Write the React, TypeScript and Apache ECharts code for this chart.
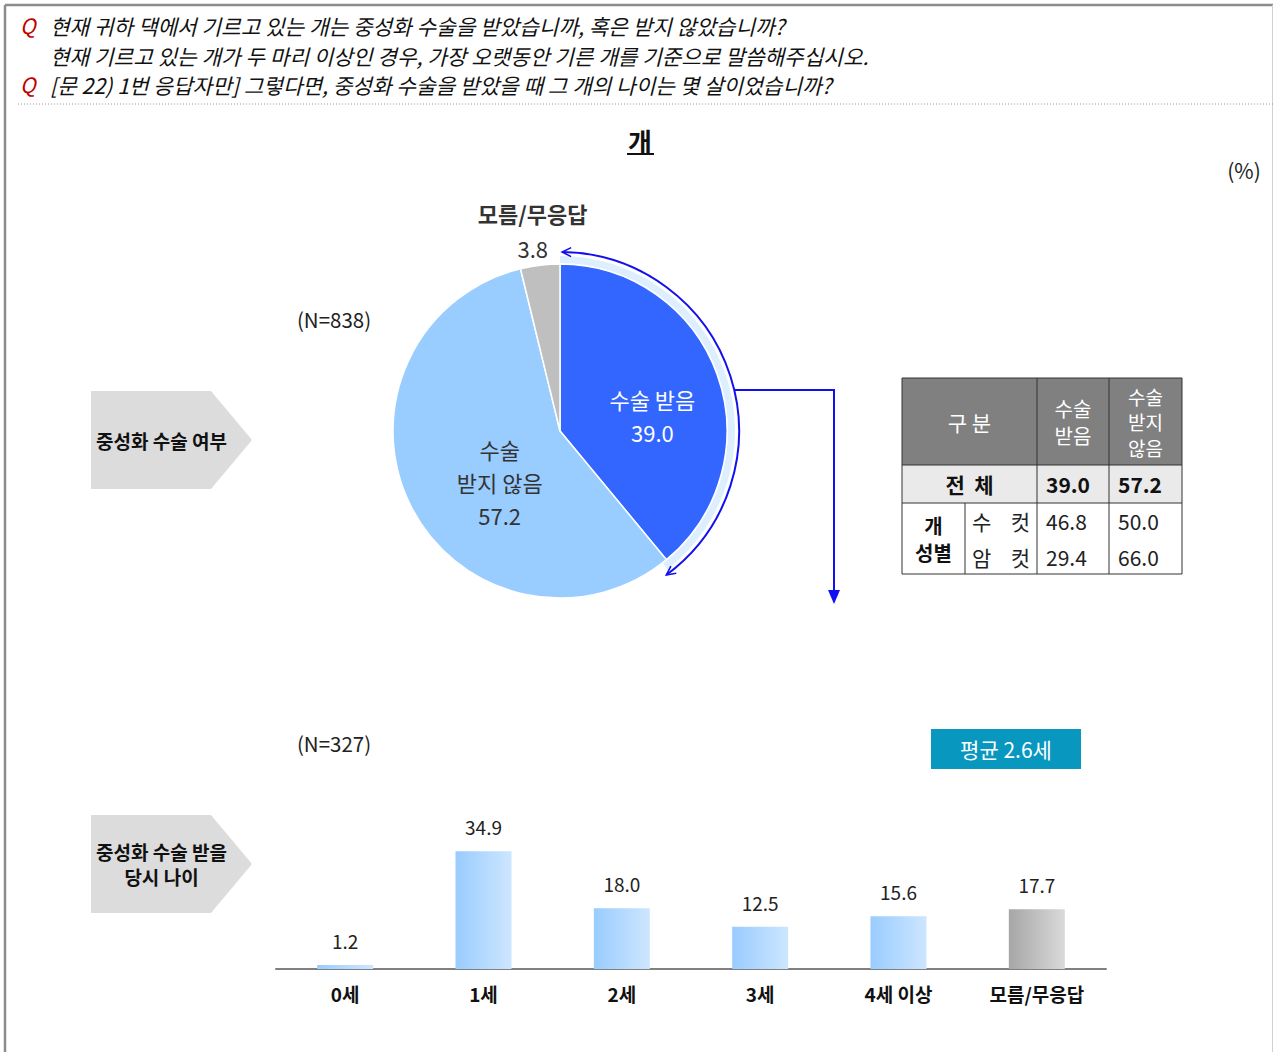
import React, { useEffect, useRef } from "react";
import * as echarts from "echarts";

// ---- data ----
const questionLines = [
  "현재 귀하 댁에서 기르고 있는 개는 중성화 수술을 받았습니까, 혹은 받지 않았습니까?",
  "현재 기르고 있는 개가 두 마리 이상인 경우, 가장 오랫동안 기른 개를 기준으로 말씀해주십시오.",
  "[문 22) 1번 응답자만] 그렇다면, 중성화 수술을 받았을 때 그 개의 나이는 몇 살이었습니까?",
];
const chartTitle = "개";
const unitLabel = "(%)";

const pieNames = ["수술 받음", "수술 받지 않음", "모름/무응답"];
const pieLabelNames = ["수술 받음", "수술\n받지 않음", "모름/무응답"];
const pieValues = [39.0, 57.2, 3.8];
const pieSample = "(N=838)";
const pieSectionLabel = "중성화 수술 여부";

const tableHeaders = ["구 분", "수술\n받음", "수술\n받지\n않음"];
const tableTotalLabel = "전 체";
const tableGroupLabel = "개\n성별";
const tableSubLabels = ["수 컷", "암 컷"];
const tableSubValues = [
  [46.8, 50.0],
  [29.4, 66.0],
];

const ageCategories = ["0세", "1세", "2세", "3세", "4세 이상", "모름/무응답"];
const ageValues = [1.2, 34.9, 18.0, 12.5, 15.6, 17.7];
const ageSample = "(N=327)";
const ageSectionLabel = "중성화 수술 받을\n당시 나이";
const meanAge = 2.6;

// ---- styling ----
const FONT = '"Noto Sans CJK KR", "Noto Sans", sans-serif';
const PIE_COLORS = ["#3366FF", "#99CCFF", "#BFBFBF"];
const ARROW_BLUE = "#1010F0";
const PIE_CX = 560;
const PIE_CY = 431;
const PIE_R = 167;

const txt = (x: number, y: number, text: string, s: any = {}) => ({
  type: "text",
  x,
  y,
  z: 10,
  style: {
    text,
    fill: "#222",
    fontFamily: FONT,
    fontSize: 20,
    align: "center",
    verticalAlign: "middle",
    ...s,
  },
});

const line = (x1: number, y1: number, x2: number, y2: number, s: any = {}) => ({
  type: "line",
  z: 5,
  shape: { x1, y1, x2, y2 },
  style: { stroke: "#333", lineWidth: 1, ...s },
});

const chevron = (tx: number, ty: number, dx: number, dy: number) => {
  const L = 9;
  const W = 4.5;
  const nx = -dy;
  const ny = dx;
  return {
    type: "polyline",
    z: 6,
    shape: {
      points: [
        [tx - L * dx + W * nx, ty - L * dy + W * ny],
        [tx, ty],
        [tx - L * dx - W * nx, ty - L * dy - W * ny],
      ],
    },
    style: { stroke: ARROW_BLUE, lineWidth: 1.6, fill: "none" },
  };
};

const sectionTag = (x: number, y: number, w: number, h: number, tip: number, text: string) => [
  {
    type: "polygon",
    z: 2,
    shape: {
      points: [
        [x, y],
        [x + w, y],
        [x + w + tip, y + h / 2],
        [x + w, y + h],
        [x, y + h],
      ],
    },
    style: { fill: "#DCDCDC" },
  },
  txt(x + (w + tip) / 2 - 10, y + h / 2, text, {
    fontSize: 19,
    fontWeight: "bold",
    fill: "#111",
    lineHeight: 25.5,
  }),
];

function buildTable() {
  const xs = [902, 965, 1037, 1109, 1182];
  const ys = [378, 465, 503, 574];
  const els: any[] = [];
  els.push({ type: "rect", z: 1, shape: { x: xs[0], y: ys[0], width: xs[4] - xs[0], height: ys[1] - ys[0] }, style: { fill: "#808080" } });
  els.push({ type: "rect", z: 1, shape: { x: xs[0], y: ys[1], width: xs[4] - xs[0], height: ys[2] - ys[1] }, style: { fill: "#EAEAEA" } });
  els.push({ type: "rect", z: 1, shape: { x: xs[0], y: ys[2], width: xs[4] - xs[0], height: ys[3] - ys[2] }, style: { fill: "#FFFFFF" } });
  // grid lines
  els.push(line(xs[0], ys[0], xs[4], ys[0]));
  els.push(line(xs[0], ys[1], xs[4], ys[1]));
  els.push(line(xs[0], ys[2], xs[4], ys[2]));
  els.push(line(xs[0], ys[3], xs[4], ys[3]));
  els.push(line(xs[0], ys[0], xs[0], ys[3]));
  els.push(line(xs[4], ys[0], xs[4], ys[3]));
  els.push(line(xs[2], ys[0], xs[2], ys[3]));
  els.push(line(xs[3], ys[0], xs[3], ys[3]));
  els.push(line(xs[1], ys[2], xs[1], ys[3]));

  const FS = 21;
  // header
  els.push(txt((xs[0] + xs[2]) / 2, (ys[0] + ys[1]) / 2, tableHeaders[0], { fill: "#fff", fontSize: FS }));
  els.push(txt((xs[2] + xs[3]) / 2, (ys[0] + ys[1]) / 2, tableHeaders[1], { fill: "#fff", fontSize: 20, lineHeight: 27 }));
  els.push(txt((xs[3] + xs[4]) / 2, (ys[0] + ys[1]) / 2, tableHeaders[2], { fill: "#fff", fontSize: 19, lineHeight: 25.5 }));

  // total row (same figures as the pie)
  const totalVals = [pieValues[0], pieValues[1]];
  const ty = (ys[1] + ys[2]) / 2;
  els.push(txt((xs[0] + xs[2]) / 2, ty, tableTotalLabel.replace(" ", "  "), { fontWeight: "bold", fill: "#111", fontSize: FS }));
  els.push(txt(xs[2] + 9, ty, totalVals[0].toFixed(1), { fontWeight: "bold", fill: "#111", align: "left", fontSize: FS }));
  els.push(txt(xs[3] + 9, ty, totalVals[1].toFixed(1), { fontWeight: "bold", fill: "#111", align: "left", fontSize: FS }));

  // gender rows
  els.push(txt((xs[0] + xs[1]) / 2, (ys[2] + ys[3]) / 2, tableGroupLabel, { fontWeight: "bold", fill: "#111", lineHeight: 27, fontSize: 20 }));
  const rowYs = [521, 557];
  tableSubLabels.forEach((lab, i) => {
    const [a, b] = lab.split(" ");
    els.push(txt(xs[1] + 7, rowYs[i], a, { align: "left", fontSize: FS }));
    els.push(txt(xs[2] - 7, rowYs[i], b, { align: "right", fontSize: FS }));
    els.push(txt(xs[2] + 9, rowYs[i], tableSubValues[i][0].toFixed(1), { align: "left", fontSize: FS }));
    els.push(txt(xs[3] + 9, rowYs[i], tableSubValues[i][1].toFixed(1), { align: "left", fontSize: FS }));
  });
  return els;
}

function buildArrows() {
  const els: any[] = [];
  const top = -Math.PI / 2;
  const blueEnd = top + 2 * Math.PI * (pieValues[0] / 100);
  // pale band hugging the first slice
  els.push({
    type: "sector",
    z: 3,
    shape: { cx: PIE_CX, cy: PIE_CY, r0: PIE_R + 1, r: PIE_R + 8, startAngle: top, endAngle: blueEnd + 0.03, clockwise: true },
    style: { fill: "#DDEEFF" },
  });
  const rA = PIE_R + 12;
  const a0 = top + 0.012;
  const a1 = blueEnd + 0.055;
  els.push({
    type: "arc",
    z: 6,
    shape: { cx: PIE_CX, cy: PIE_CY, r: rA, startAngle: a0, endAngle: a1, clockwise: true },
    style: { stroke: ARROW_BLUE, lineWidth: 2, fill: "none" },
  });
  els.push(chevron(PIE_CX + rA * Math.cos(a0), PIE_CY + rA * Math.sin(a0), Math.sin(a0), -Math.cos(a0)));
  els.push(chevron(PIE_CX + rA * Math.cos(a1), PIE_CY + rA * Math.sin(a1), -Math.sin(a1), Math.cos(a1)));

  // connector to the follow-up question
  const cy = 390;
  const sx = PIE_CX + Math.sqrt(rA * rA - (cy - PIE_CY) * (cy - PIE_CY));
  els.push(line(sx, cy, 834, cy, { stroke: ARROW_BLUE, lineWidth: 2 }));
  els.push(line(834, cy - 1, 834, 592, { stroke: ARROW_BLUE, lineWidth: 2 }));
  els.push({
    type: "polygon",
    z: 6,
    shape: { points: [[828, 590], [840, 590], [834, 604]] },
    style: { fill: ARROW_BLUE },
  });
  return els;
}

function buildFrame() {
  const els: any[] = [];
  els.push(line(5, 5, 1273, 5, { stroke: "#8C8C8C", lineWidth: 2.5 }));
  els.push(line(5, 5, 5, 1052, { stroke: "#8C8C8C", lineWidth: 2.5 }));
  els.push(line(1272.5, 5, 1272.5, 1052, { stroke: "#D0D0D0", lineWidth: 1 }));
  els.push(line(18, 104, 1273, 104, { stroke: "#9A9A9A", lineWidth: 1, lineDash: [1, 2] }));

  const qys = [25, 55, 84];
  questionLines.forEach((q, i) => {
    if (i !== 1) {
      els.push(txt(20, qys[i], "Q", { align: "left", fill: "#C00000", fontStyle: "italic", fontSize: 21 }));
    }
    els.push(txt(50, qys[i], q, { align: "left", fill: "#111", fontStyle: "italic", fontSize: 21.3 }));
  });

  els.push(txt(640, 140, chartTitle, { fontSize: 26, fontWeight: "bold", fill: "#111" }));
  els.push(line(627, 154, 654, 154, { stroke: "#111", lineWidth: 2 }));
  els.push(txt(1244, 170, unitLabel, { fontSize: 21, fill: "#222" }));

  els.push(txt(334, 319, pieSample, { fontSize: 20.5, fill: "#222" }));
  els.push(txt(334, 743, ageSample, { fontSize: 20.5, fill: "#222" }));

  els.push(...sectionTag(91, 391, 120, 98, 41, pieSectionLabel));
  els.push(...sectionTag(91, 815, 120, 98, 41, ageSectionLabel));

  els.push({ type: "rect", z: 2, shape: { x: 931, y: 729, width: 150, height: 40 }, style: { fill: "#0897BF" } });
  els.push(txt(1006, 749, `평균 ${meanAge.toFixed(1)}세`, { fill: "#fff", fontSize: 21 }));
  return els;
}

// pie label nudges (dx, dy) from the default inner position
const PIE_LABEL_SHIFT = [
  { dx: 11, dy: 14 },
  { dx: 17, dy: 12 },
  { dx: -17, dy: -115 },
];

export default function App() {
  const ref = useRef<HTMLDivElement>(null);

  useEffect(() => {
    if (!ref.current) return;
    const chart = echarts.init(ref.current, undefined, { renderer: "svg" });

    const barGradient = (a: string, b: string) => ({
      type: "linear",
      x: 0,
      y: 0,
      x2: 1,
      y2: 0,
      colorStops: [
        { offset: 0, color: a },
        { offset: 1, color: b },
      ],
    });

    const option: any = {
      animation: false,
      backgroundColor: "#fff",
      textStyle: { fontFamily: FONT },
      grid: { left: 276, top: 834, width: 830, height: 135 },
      xAxis: {
        type: "category",
        data: ageCategories,
        axisLine: { lineStyle: { color: "#808080", width: 2 } },
        axisTick: { show: false },
        axisLabel: { fontFamily: FONT, fontSize: 19, fontWeight: "bold", color: "#111", margin: 15 },
      },
      yAxis: { type: "value", min: 0, max: 40, show: false, splitLine: { show: false } },
      series: [
        {
          type: "pie",
          center: [PIE_CX, PIE_CY],
          radius: PIE_R,
          startAngle: 90,
          clockwise: true,
          avoidLabelOverlap: false,
          itemStyle: { borderColor: "#fff", borderWidth: 1.5 },
          labelLine: { show: false },
          emphasis: { disabled: true },
          data: pieNames.map((name, i) => ({
            name,
            value: pieValues[i],
            itemStyle: { color: PIE_COLORS[i] },
            label: {
              show: true,
              position: "inner",
              fontFamily: FONT,
              fontSize: 22,
              color: i === 0 ? "#fff" : "#333",
              lineHeight: i === 2 ? 35 : 33,
              formatter:
                i === 2
                  ? `{b|${pieLabelNames[i]}}\n${pieValues[i].toFixed(1)}`
                  : `${pieLabelNames[i]}\n${pieValues[i].toFixed(1)}`,
              rich: { b: { fontFamily: FONT, fontSize: 22, fontWeight: "bold", color: "#333", lineHeight: 35 } },
            },
          })),
          labelLayout: (p: any) => PIE_LABEL_SHIFT[p.dataIndex],
        },
        {
          type: "bar",
          barWidth: 56,
          data: ageValues.map((v, i) => ({
            value: v,
            itemStyle: {
              color:
                i === ageValues.length - 1
                  ? barGradient("#A6A6A6", "#DADADA")
                  : barGradient("#99CCFF", "#CDE6FF"),
            },
          })),
          label: {
            show: true,
            position: "top",
            distance: 15,
            fontFamily: FONT,
            fontSize: 19,
            color: "#222",
            formatter: (p: any) => Number(p.value).toFixed(1),
          },
          emphasis: { disabled: true },
        },
      ],
      graphic: { elements: [...buildFrame(), ...buildTable(), ...buildArrows()] },
    };

    chart.setOption(option);
    return () => chart.dispose();
  }, []);

  return (
    <div
      ref={ref}
      style={{ position: "absolute", left: 0, top: 0, width: 1275, height: 1052, background: "#fff" }}
    />
  );
}
